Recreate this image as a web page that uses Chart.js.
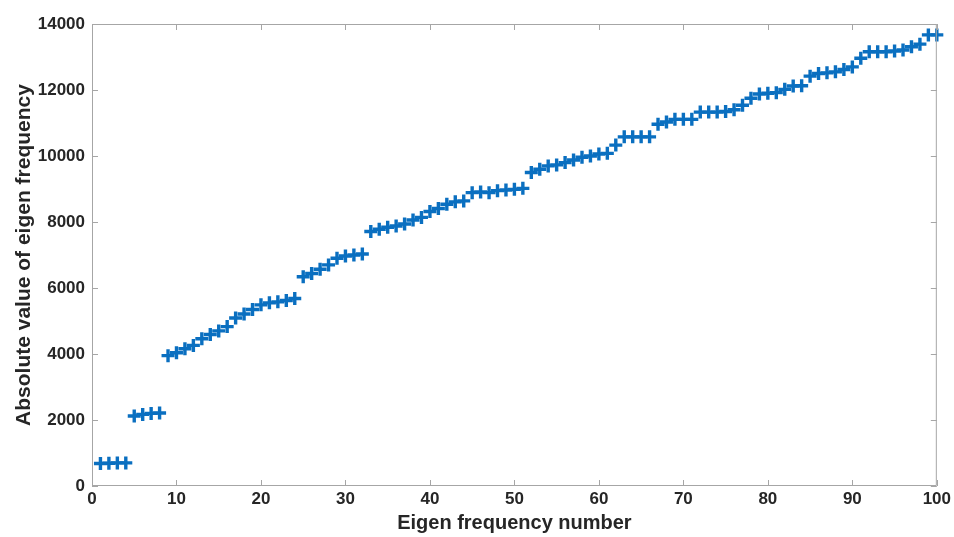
<!DOCTYPE html>
<html>
<head>
<meta charset="utf-8">
<script src="https://cdn.jsdelivr.net/npm/chart.js@4/dist/chart.umd.min.js"></script>
<style>
  html, body { margin: 0; padding: 0; background: #fff; }
  #wrap { width: 954px; height: 537px; }
</style>
</head>
<body>
<div id="wrap"><canvas id="eig"></canvas></div>
<script>
const modeNumbers = [
  1, 2, 3, 4, 5, 6, 7, 8, 9, 10,
  11, 12, 13, 14, 15, 16, 17, 18, 19, 20,
  21, 22, 23, 24, 25, 26, 27, 28, 29, 30,
  31, 32, 33, 34, 35, 36, 37, 38, 39, 40,
  41, 42, 43, 44, 45, 46, 47, 48, 49, 50,
  51, 52, 53, 54, 55, 56, 57, 58, 59, 60,
  61, 62, 63, 64, 65, 66, 67, 68, 69, 70,
  71, 72, 73, 74, 75, 76, 77, 78, 79, 80,
  81, 82, 83, 84, 85, 86, 87, 88, 89, 90,
  91, 92, 93, 94, 95, 96, 97, 98, 99, 100
];
const absFreq = [
  680, 690, 700, 700, 2120, 2170, 2200, 2210, 3950, 4040,
  4160, 4260, 4460, 4590, 4700, 4830, 5090, 5210, 5350, 5490,
  5550, 5580, 5620, 5680, 6340, 6440, 6570, 6700, 6900, 6970,
  7000, 7030, 7710, 7780, 7840, 7880, 7940, 8060, 8140, 8320,
  8410, 8540, 8610, 8640, 8890, 8910, 8890, 8950, 8970, 8990,
  9020, 9500, 9600, 9700, 9730, 9800, 9880, 9960, 10000, 10060,
  10080, 10330, 10580, 10580, 10580, 10580, 10960, 11030, 11110, 11110,
  11110, 11330, 11330, 11330, 11350, 11400, 11540, 11750, 11880, 11900,
  11920, 12020, 12120, 12130, 12420, 12500, 12520, 12550, 12620, 12700,
  12960, 13160, 13160, 13160, 13180, 13210, 13310, 13390, 13670, 13670
];
const xTicks = [0, 10, 20, 30, 40, 50, 60, 70, 80, 90, 100];
const yTicks = [0, 2000, 4000, 6000, 8000, 10000, 12000, 14000];

const points = modeNumbers.map((n, i) => ({ x: n, y: absFreq[i] }));

const axisGray = "#a6a6a6";
const textCol = "#262626";
const fam = "Liberation Sans, Arial";

// matlab style box with inward ticks on all four sides
const boxTicks = {
  id: "boxTicks",
  afterDraw(chart) {
    const { ctx, chartArea: a, scales } = chart;
    const len = 6;
    ctx.save();
    ctx.strokeStyle = axisGray;
    ctx.lineWidth = 1;
    ctx.beginPath();
    ctx.rect(a.left + 0.5, a.top + 0.5, a.right - a.left - 1, a.bottom - a.top - 1);
    xTicks.forEach(v => {
      const px = Math.round(scales.x.getPixelForValue(v)) + 0.5;
      ctx.moveTo(px, a.bottom); ctx.lineTo(px, a.bottom - len);
      ctx.moveTo(px, a.top); ctx.lineTo(px, a.top + len);
    });
    yTicks.forEach(v => {
      const py = Math.round(scales.y.getPixelForValue(v)) + 0.5;
      ctx.moveTo(a.left, py); ctx.lineTo(a.left + len, py);
      ctx.moveTo(a.right, py); ctx.lineTo(a.right - len, py);
    });
    ctx.stroke();
    ctx.restore();
  }
};

new Chart(document.getElementById("eig"), {
  type: "scatter",
  data: {
    datasets: [{
      data: points,
      pointStyle: "cross",
      pointRadius: 6.5,
      pointBorderWidth: 3.4,
      borderColor: "#0a6fc0",
      backgroundColor: "#0a6fc0",
      clip: false
    }]
  },
  options: {
    responsive: true,
    maintainAspectRatio: false,
    animation: false,
    layout: { padding: { top: 24, right: 16, left: 12, bottom: 0 } },
    plugins: { legend: { display: false }, tooltip: { enabled: false } },
    scales: {
      x: {
        type: "linear",
        min: 0, max: 100,
        afterBuildTicks: s => { s.ticks = xTicks.map(v => ({ value: v })); },
        afterFit: s => { s.height = 51; },
        grid: { display: false, drawTicks: false },
        border: { display: false },
        ticks: { color: textCol, padding: 3, maxRotation: 0, callback: v => String(v),
          font: { family: fam, size: 17, weight: "bold" } },
        title: { display: true, text: "Eigen frequency number", color: textCol, padding: { top: 0, bottom: 2 },
          font: { family: fam, size: 20, weight: "bold" } }
      },
      y: {
        min: 0, max: 14000,
        afterBuildTicks: s => { s.ticks = yTicks.map(v => ({ value: v })); },
        afterFit: s => { s.width = 80; },
        grid: { display: false, drawTicks: false },
        border: { display: false },
        ticks: { color: textCol, padding: 7, callback: v => String(v),
          font: { family: fam, size: 17, weight: "bold" } },
        title: { display: true, text: "Absolute value of eigen frequency", color: textCol, padding: { top: 0, bottom: 0 },
          font: { family: fam, size: 21, weight: "bold" } }
      }
    }
  },
  plugins: [boxTicks]
});
</script>
</body>
</html>
